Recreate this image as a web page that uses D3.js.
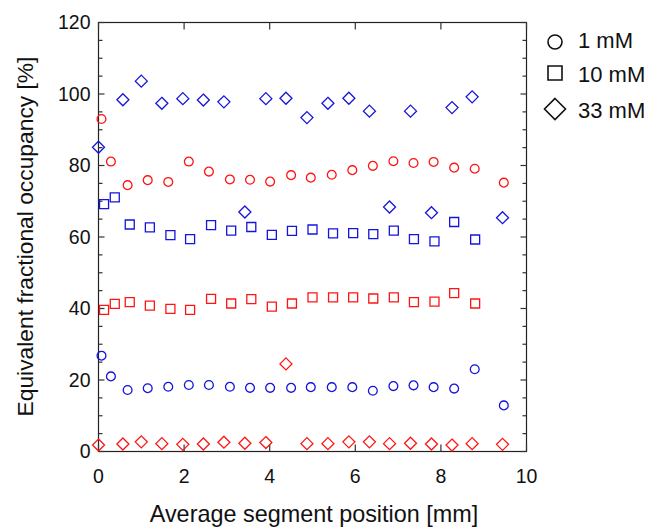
<!DOCTYPE html>
<html>
<head>
<meta charset="utf-8">
<script src="https://cdn.jsdelivr.net/npm/d3@7"></script>
<style>
  html, body { margin: 0; padding: 0; background: #fff; }
  svg { display: block; font-family: "Liberation Sans", Arial, Helvetica, sans-serif; }
</style>
</head>
<body>
<svg id="chart" width="653" height="532"></svg>
<script>
// Positions (mm) and fractional occupancies (%) for each concentration and channel.
const circleX = [0.07, 0.29, 0.68, 1.15, 1.63, 2.11, 2.58, 3.07, 3.54, 4.01, 4.50, 4.96, 5.45, 5.93, 6.41, 6.89, 7.36, 7.83, 8.31, 8.79, 9.47];
const circleRed = [93.0, 81.1, 74.5, 75.9, 75.4, 81.1, 78.3, 76.1, 76.0, 75.5, 77.3, 76.6, 77.4, 78.7, 79.9, 81.2, 80.7, 81.0, 79.4, 79.1, 75.2];
const circleBlue = [26.8, 21.0, 17.2, 17.7, 18.1, 18.6, 18.6, 18.1, 17.8, 17.8, 17.8, 18.0, 18.0, 18.0, 17.0, 18.3, 18.5, 18.0, 17.6, 23.0, 12.9];

const squareX = [0.13, 0.38, 0.73, 1.20, 1.68, 2.14, 2.63, 3.10, 3.57, 4.05, 4.52, 5.00, 5.48, 5.95, 6.42, 6.90, 7.37, 7.85, 8.31, 8.80];
const squareRed = [39.6, 41.3, 41.8, 40.8, 39.9, 39.6, 42.7, 41.4, 42.6, 40.5, 41.4, 43.1, 43.1, 43.1, 42.8, 43.1, 41.8, 41.9, 44.3, 41.4];
const squareBlue = [69.2, 71.1, 63.5, 62.7, 60.5, 59.4, 63.3, 61.8, 62.8, 60.6, 61.7, 62.1, 61.0, 61.1, 60.8, 61.8, 59.4, 58.8, 64.2, 59.3];

const diamondX = [0.00, 0.57, 1.00, 1.48, 1.97, 2.45, 2.93, 3.42, 3.91, 4.38, 4.87, 5.36, 5.85, 6.33, 6.80, 7.29, 7.78, 8.26, 8.73, 9.44];
const diamondRed = [1.8, 2.1, 2.7, 2.2, 2.0, 2.1, 2.6, 2.3, 2.5, 24.5, 2.2, 2.2, 2.7, 2.7, 2.2, 2.3, 2.1, 1.8, 2.2, 2.0];
const diamondBlue = [85.1, 98.4, 103.6, 97.4, 98.7, 98.3, 97.8, 67.0, 98.7, 98.8, 93.4, 97.4, 98.8, 95.2, 68.4, 95.2, 66.8, 96.2, 99.2, 65.4];

const xTicks = [0, 2, 4, 6, 8, 10];
const yTicks = [0, 20, 40, 60, 80, 100, 120];
const legendLabels = ["1 mM", "10 mM", "33 mM"];

const RED = "#ff1414";
const BLUE = "#1414dc";

const svg = d3.select("#chart");
const plot = { left: 98.5, right: 526.5, top: 22.5, bottom: 451.5 };

const x = d3.scaleLinear().domain([0, 10]).range([plot.left, plot.right]);
const y = d3.scaleLinear().domain([0, 120]).range([plot.bottom, plot.top]);

// Marker path generators
const shapes = {
  circle: r => d3.symbol().type(d3.symbolCircle).size(Math.PI * r * r)(),
  square: s => `M${-s/2},${-s/2}h${s}v${s}h${-s}Z`,
  diamond: h => `M0,${-h}L${h},0L0,${h}L${-h},0Z`
};

const series = [
  { xs: circleX, ys: circleRed, color: RED, path: shapes.circle(4.4) },
  { xs: circleX, ys: circleBlue, color: BLUE, path: shapes.circle(4.4) },
  { xs: squareX, ys: squareRed, color: RED, path: shapes.square(9) },
  { xs: squareX, ys: squareBlue, color: BLUE, path: shapes.square(9) },
  { xs: diamondX, ys: diamondRed, color: RED, path: shapes.diamond(6) },
  { xs: diamondX, ys: diamondBlue, color: BLUE, path: shapes.diamond(6) }
];

// Frame
svg.append("rect")
  .attr("x", plot.left).attr("y", plot.top)
  .attr("width", plot.right - plot.left).attr("height", plot.bottom - plot.top)
  .attr("fill", "none").attr("stroke", "#222").attr("stroke-width", 1.2);

// Ticks drawn inward on all four sides
const yMinor = d3.range(0, 121, 5);
const tickG = svg.append("g").attr("stroke", "#333").attr("stroke-width", 1.2);
yMinor.forEach(v => {
  const major = v % 20 === 0;
  const len = major ? 6 : 4;
  tickG.append("line").attr("x1", plot.left).attr("x2", plot.left + len)
    .attr("y1", y(v)).attr("y2", y(v));
  tickG.append("line").attr("x1", plot.right).attr("x2", plot.right - len)
    .attr("y1", y(v)).attr("y2", y(v));
});
xTicks.forEach(v => {
  tickG.append("line").attr("x1", x(v)).attr("x2", x(v))
    .attr("y1", plot.bottom).attr("y2", plot.bottom - 7);
  tickG.append("line").attr("x1", x(v)).attr("x2", x(v))
    .attr("y1", plot.top).attr("y2", plot.top + 7);
});

// Tick labels
svg.append("g").selectAll("text").data(yTicks).join("text")
  .attr("x", plot.left - 8).attr("y", d => y(d))
  .attr("dy", "0.35em").attr("text-anchor", "end")
  .attr("font-size", 19.5).attr("fill", "#111")
  .text(d => d);
svg.append("g").selectAll("text").data(xTicks).join("text")
  .attr("x", d => x(d)).attr("y", 483)
  .attr("text-anchor", "middle")
  .attr("font-size", 19.5).attr("fill", "#111")
  .text(d => d);

// Axis titles
svg.append("text")
  .attr("x", 314).attr("y", 522)
  .attr("text-anchor", "middle").attr("font-size", 23.4).attr("fill", "#111")
  .text("Average segment position [mm]");
svg.append("text")
  .attr("transform", `translate(33,236.5) rotate(-90)`)
  .attr("text-anchor", "middle").attr("font-size", 22.8).attr("fill", "#111")
  .text("Equivalent fractional occupancy [%]");

// Data markers
series.forEach(s => {
  svg.append("g").selectAll("path").data(s.xs.map((xv, i) => [xv, s.ys[i]])).join("path")
    .attr("d", s.path)
    .attr("transform", d => `translate(${x(d[0])},${y(d[1])})`)
    .attr("fill", "none").attr("stroke", s.color).attr("stroke-width", 1.3);
});

// Legend
const legendShapes = [shapes.circle(7), shapes.square(14), shapes.diamond(10.5)];
const legendY = [42, 73, 109];
const legendBase = [48, 81.7, 118.3];
legendLabels.forEach((lab, i) => {
  svg.append("path").attr("d", legendShapes[i])
    .attr("transform", `translate(555,${legendY[i]})`)
    .attr("fill", "none").attr("stroke", "#111").attr("stroke-width", 1.6);
  svg.append("text").attr("x", 578).attr("y", legendBase[i])
    .attr("font-size", 22).attr("fill", "#111").text(lab);
});
</script>
</body>
</html>
